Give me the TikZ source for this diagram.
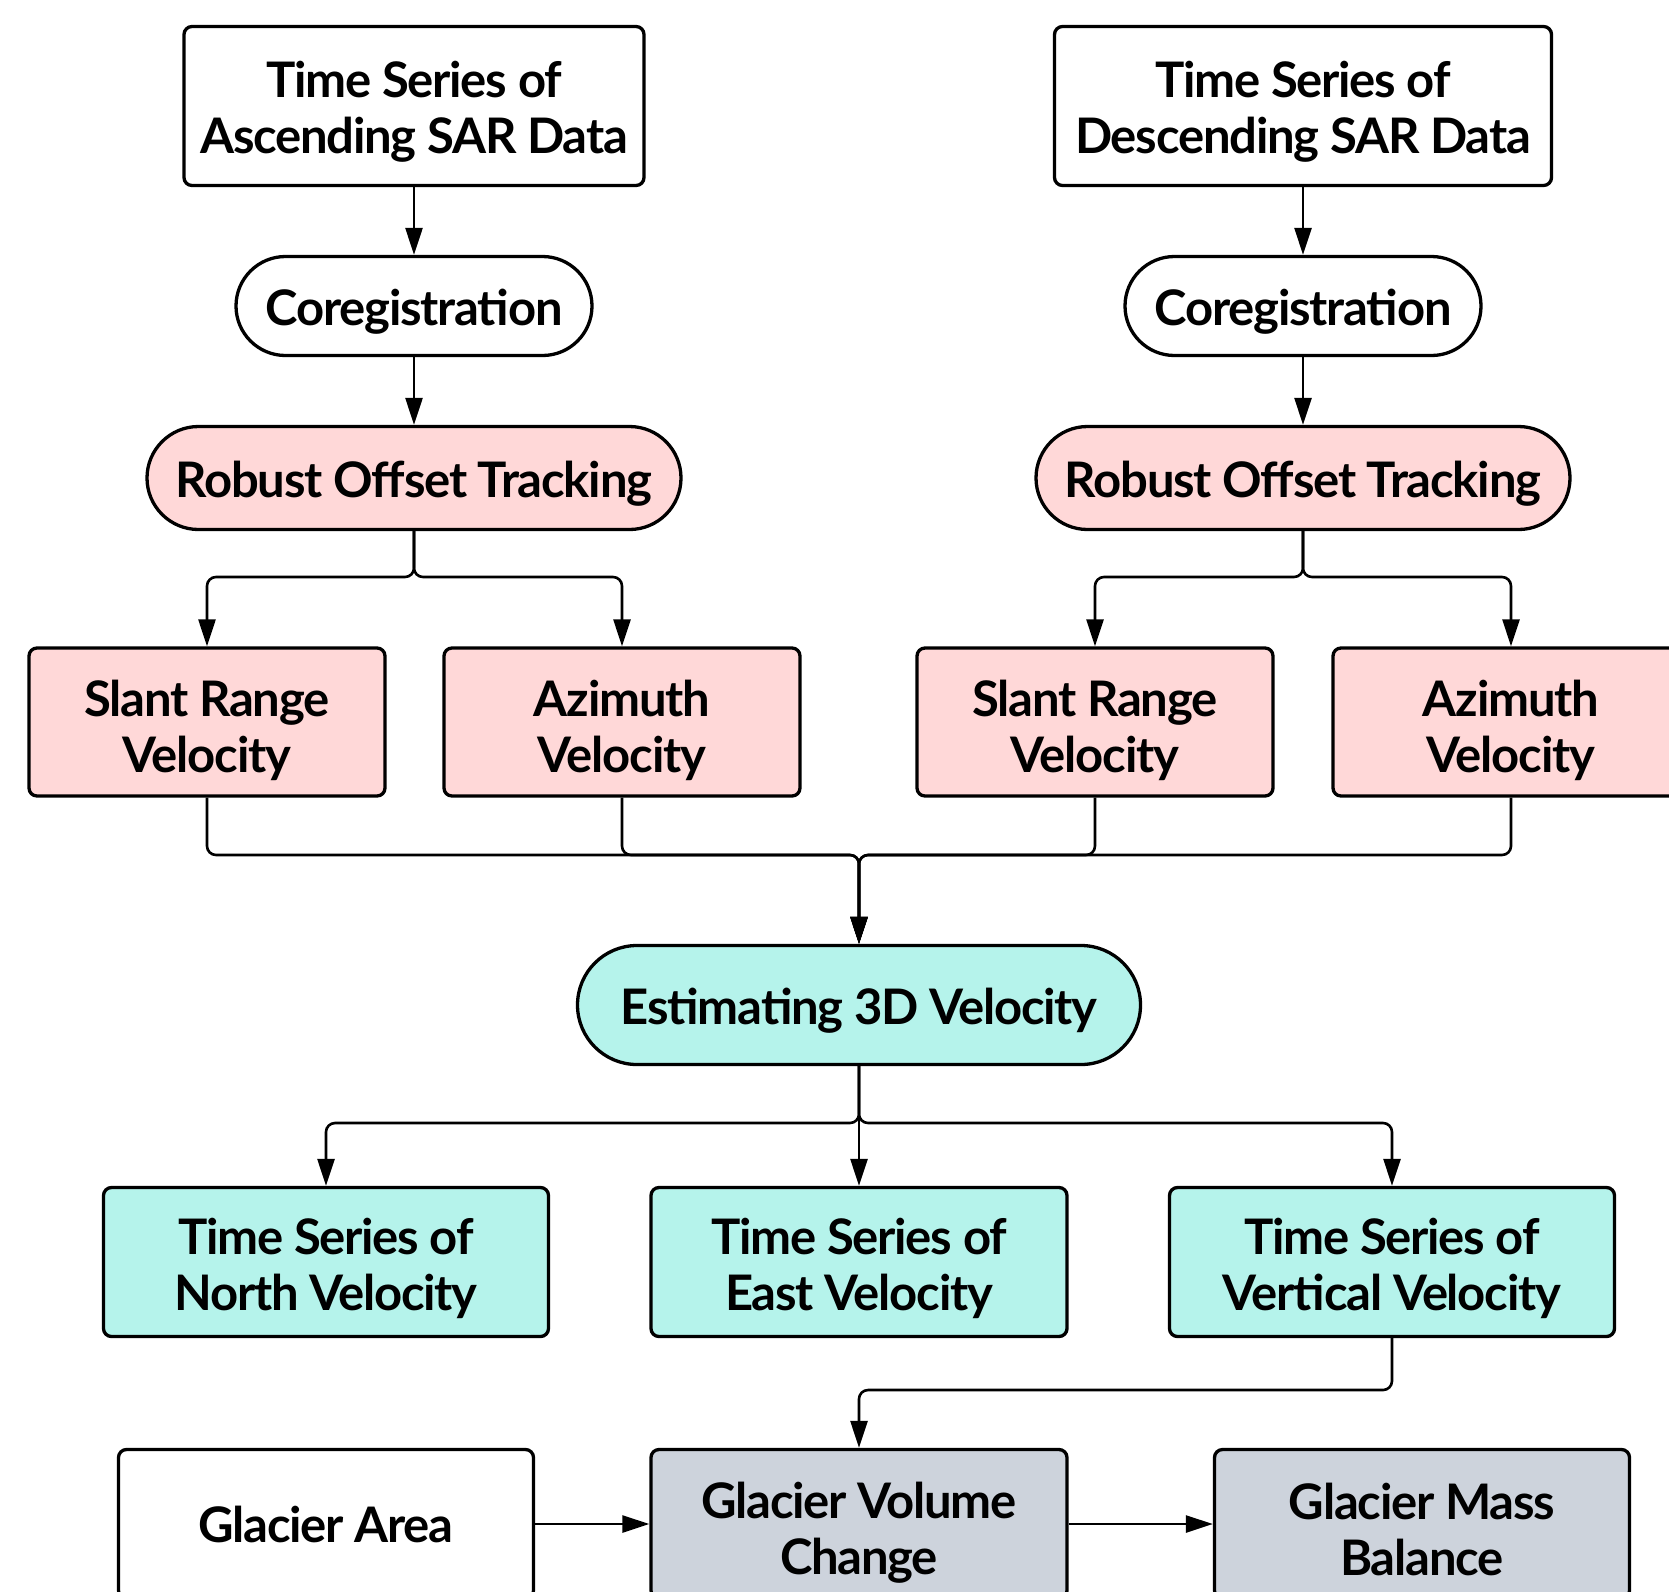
\documentclass[tikz,border=0pt]{standalone}
\usepackage{fontspec}
\setmainfont{Lato}[LetterSpace=-2.5]
\usetikzlibrary{shapes.misc,arrows.meta,calc}
\definecolor{pinkf}{HTML}{FFD8D8}
\definecolor{tealf}{HTML}{B5F3EB}
\definecolor{greyf}{HTML}{CDD3DC}
\tikzset{
  txt/.style={font=\bfseries\fontsize{24.5}{28}\selectfont, align=center, inner sep=0pt},
  t/.style={label={[txt,yshift=-3pt]center:#1}},
  ts/.style 2 args={label={[txt,yshift=#1]center:#2}},
  rbox/.style={draw, line width=1.65pt, rounded corners=4pt, rectangle, inner sep=0pt},
  pill/.style={draw, line width=1.65pt, rounded rectangle, inner sep=0pt},
  conn/.style={line width=1.3pt, rounded corners=4.5pt},
  arr/.style={conn, -{Triangle[length=13.5pt,width=8.5pt]}},
}
\begin{document}
\begin{tikzpicture}[x=0.5pt,y=-0.5pt]
\useasboundingbox (0,0) rectangle (1669,1591);
\clip (0,0) rectangle (1669,1591);
% top
\node[rbox, minimum width=230pt, minimum height=79.5pt, t={Time Series of\\Ascending SAR Data}] (ascL) at (414,106) {};
\node[rbox, minimum width=248.5pt, minimum height=79.5pt, t={Time Series of\\Descending SAR Data}] (desR) at (1303,106) {};
\node[pill, minimum width=178pt, minimum height=49.5pt, t={Coregistration}] (coL) at (414,306) {};
\node[pill, minimum width=178pt, minimum height=49.5pt, t={Coregistration}] (coR) at (1303,306) {};
\node[pill, fill=pinkf, minimum width=267pt, minimum height=51.5pt, t={Robust Offset Tracking}] (rotL) at (414,478) {};
\node[pill, fill=pinkf, minimum width=267pt, minimum height=51.5pt, t={Robust Offset Tracking}] (rotR) at (1303,478) {};
% velocity boxes
\node[rbox, fill=pinkf, minimum width=178pt, minimum height=74pt, ts={-4pt}{Slant Range\\Velocity}] (slL) at (207,722) {};
\node[rbox, fill=pinkf, minimum width=178pt, minimum height=74pt, ts={-4pt}{Azimuth\\Velocity}] (azL) at (622,722) {};
\node[rbox, fill=pinkf, minimum width=178pt, minimum height=74pt, ts={-4pt}{Slant Range\\Velocity}] (slR) at (1095,722) {};
\node[rbox, fill=pinkf, minimum width=178pt, minimum height=74pt, ts={-4pt}{Azimuth\\Velocity}] (azR) at (1511,722) {};
% estimating
\node[pill, fill=tealf, minimum width=281.5pt, minimum height=59.5pt, t={Estimating 3D Velocity}] (est) at (859,1005) {};
% components
\node[rbox, fill=tealf, minimum width=222.5pt, minimum height=74.5pt, t={Time Series of\\North Velocity}] (north) at (326,1262) {};
\node[rbox, fill=tealf, minimum width=208pt, minimum height=74.5pt, t={Time Series of\\East Velocity}] (east) at (859,1262) {};
\node[rbox, fill=tealf, minimum width=222.5pt, minimum height=74.5pt, t={Time Series of\\Vertical Velocity}] (vert) at (1392,1262) {};
% glacier
\node[rbox, minimum width=207.5pt, minimum height=74.5pt, ts={-0.4pt}{Glacier Area}] (area) at (326,1524) {};
\node[rbox, fill=greyf, minimum width=208pt, minimum height=74.5pt, ts={-4.5pt}{Glacier Volume\\Change}] (vol) at (859,1524) {};
\node[rbox, fill=greyf, minimum width=207.5pt, minimum height=74.5pt, ts={-2.5pt}{Glacier Mass\\Balance}] (mass) at (1422,1524) {};
% levels
\coordinate (yb1) at (0,577);
\coordinate (ym) at (859,855);
\coordinate (yb2) at (0,1123);
\coordinate (yb3) at (0,1390);
% connectors
\draw[arr] (ascL) -- (coL);
\draw[arr] (desR) -- (coR);
\draw[arr] (coL) -- (rotL);
\draw[arr] (coR) -- (rotR);
\draw[arr] (rotL.south) -- (rotL.south |- yb1) -| (slL.north);
\draw[arr] (rotL.south) -- (rotL.south |- yb1) -| (azL.north);
\draw[arr] (rotR.south) -- (rotR.south |- yb1) -| (slR.north);
\draw[arr] (rotR.south) -- (rotR.south |- yb1) -| (azR.north);
\draw[arr] (slL.south) |- (ym) -- (est.north);
\draw[arr] (azL.south) |- (ym) -- (est.north);
\draw[arr] (slR.south) |- (ym) -- (est.north);
\draw[arr] (azR.south) |- (ym) -- (est.north);
\draw[arr] (est.south) -- (est.south |- yb2) -| (north.north);
\draw[arr] (est.south) -- (east.north);
\draw[arr] (est.south) -- (est.south |- yb2) -| (vert.north);
\draw[arr] (vert.south) -- (vert.south |- yb3) -| (vol.north);
\draw[arr] (area.east) -- (vol.west);
\draw[arr] (vol.east) -- (mass.west);
\end{tikzpicture}
\end{document}
